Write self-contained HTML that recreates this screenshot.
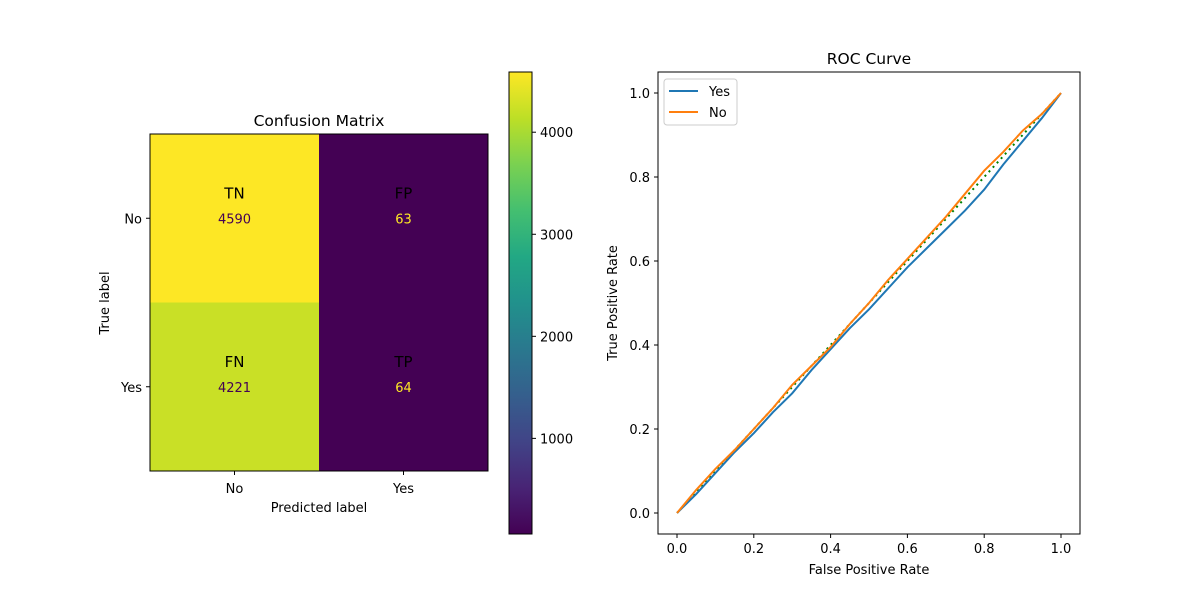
<!DOCTYPE html>
<html><head><meta charset="utf-8"><style>
body{margin:0;background:#fff}
svg text{font-family:"DejaVu Sans","Liberation Sans",sans-serif}
</style></head><body>
<svg id="fig" width="1200" height="600" xmlns="http://www.w3.org/2000/svg">
<defs>
<linearGradient id="vir" x1="0" y1="1" x2="0" y2="0">
<stop offset="0" stop-color="#440154"/><stop offset="0.1" stop-color="#482475"/><stop offset="0.2" stop-color="#414487"/><stop offset="0.3" stop-color="#355f8d"/><stop offset="0.4" stop-color="#2a788e"/><stop offset="0.5" stop-color="#21918c"/><stop offset="0.6" stop-color="#22a884"/><stop offset="0.7" stop-color="#44bf70"/><stop offset="0.8" stop-color="#7ad151"/><stop offset="0.9" stop-color="#bddf26"/><stop offset="1" stop-color="#fde725"/>
</linearGradient>
</defs>
<g id="cm"></g>
<g id="cb"></g>
<g id="roc"></g>
</svg>
<script>
const cmLabels=["No","Yes"];
const cmValues=[[4590,63],[4221,64]];
const cmTags=[["TN","FP"],["FN","TP"]];
const cbTicks=[1000,2000,3000,4000];
const rocTicks=[0,0.2,0.4,0.6,0.8,1.0];
const fprYes=[0,0.05,0.1,0.15,0.2,0.25,0.3,0.35,0.4,0.45,0.5,0.55,0.6,0.65,0.7,0.75,0.8,0.85,0.9,0.95,1];
const tprYes=[0,0.045,0.095,0.145,0.19,0.24,0.285,0.34,0.39,0.44,0.485,0.535,0.585,0.63,0.675,0.72,0.77,0.83,0.885,0.94,1];
const fprNo=[0,0.05,0.1,0.15,0.2,0.25,0.3,0.35,0.4,0.45,0.5,0.55,0.6,0.65,0.7,0.75,0.8,0.85,0.9,0.95,1];
const tprNo=[0,0.055,0.105,0.15,0.2,0.25,0.305,0.35,0.395,0.45,0.5,0.555,0.605,0.655,0.705,0.76,0.815,0.86,0.91,0.95,1];
const NS="http://www.w3.org/2000/svg";
function mk(p,t,a,txt){const e=document.createElementNS(NS,t);for(const k in a)e.setAttribute(k,a[k]);if(txt!==undefined)e.textContent=txt;p.appendChild(e);return e;}
const vmin=63,vmax=4590;
const stops=[[0,[68,1,84]],[0.1,[72,36,117]],[0.2,[65,68,135]],[0.3,[53,95,141]],[0.4,[42,120,142]],[0.5,[33,145,140]],[0.6,[34,168,132]],[0.7,[68,191,112]],[0.8,[122,209,81]],[0.9,[189,223,38]],[1,[253,231,37]]];
function vir(v){let t=(v-vmin)/(vmax-vmin);t=Math.max(0,Math.min(1,t));for(let i=1;i<stops.length;i++){if(t<=stops[i][0]){const a=stops[i-1],b=stops[i];const f=(t-a[0])/(b[0]-a[0]);const c=a[1].map((x,j)=>Math.round(x+(b[1][j]-x)*f));return `rgb(${c})`;}}return "rgb(253,231,37)";}
const cm=document.getElementById('cm');
const X0=150,Y0=134,W=338,H=337,cw=W/2,ch=H/2;
for(let r=0;r<2;r++)for(let c=0;c<2;c++){
 const v=cmValues[r][c];
 const cell=mk(cm,'rect',{x:X0+c*cw,y:Y0+r*ch,width:cw+0.5,height:ch+0.5,fill:vir(v)});
 
 
 const cx=X0+c*cw+cw/2,cy=Y0+r*ch+ch/2;
 const tg=mk(cm,'text',{x:cx,y:cy-20,'text-anchor':'middle','font-size':'15',fill:'#000'},cmTags[r][c]);
 
 
 const vt=mk(cm,'text',{x:cx,y:cy+5,'text-anchor':'middle','font-size':'13',fill:v>2000?'#440154':'#fde725'},String(v));
 
 
}
mk(cm,'rect',{x:X0,y:Y0,width:W,height:H,fill:'none',stroke:'#000','stroke-width':1});
cmLabels.forEach((l,i)=>{
 const x=X0+i*cw+cw/2;
 mk(cm,'line',{x1:x,y1:Y0+H,x2:x,y2:Y0+H+4,stroke:'#000'});
 const t=mk(cm,'text',{x:x,y:Y0+H+22,'text-anchor':'middle','font-size':'13'},l);
 
 
 const y=Y0+i*ch+ch/2;
 mk(cm,'line',{x1:X0-4,y1:y,x2:X0,y2:y,stroke:'#000'});
 const t2=mk(cm,'text',{x:X0-8,y:y+5,'text-anchor':'end','font-size':'13'},l);
 
 
});
let e;
e=mk(cm,'text',{x:X0+W/2,y:126,'text-anchor':'middle','font-size':'15.5'},'Confusion Matrix');
e=mk(cm,'text',{x:X0+W/2,y:512,'text-anchor':'middle','font-size':'13'},'Predicted label');
e=mk(cm,'text',{x:0,y:0,'text-anchor':'middle','font-size':'13',transform:'translate(109,303) rotate(-90)'},'True label');
const cb=document.getElementById('cb');
const CX=509,CY0=72,CY1=534,CW=23;
mk(cb,'rect',{x:CX,y:CY0,width:CW,height:CY1-CY0,fill:'url(#vir)',stroke:'#000','stroke-width':1});
const cbY=v=>CY1-(v-vmin)/(vmax-vmin)*(CY1-CY0);
cbTicks.forEach(v=>{const y=cbY(v);mk(cb,'line',{x1:CX+CW,y1:y,x2:CX+CW+4,y2:y,stroke:'#000'});
 const t=mk(cb,'text',{x:CX+CW+8,y:y+5,'font-size':'13'},String(v));});
const roc=document.getElementById('roc');
const RX0=658,RX1=1080,RY0=72,RY1=534;
const sx=v=>677+v*(1061-677), sy=v=>513-v*(513-93);
mk(roc,'rect',{x:RX0,y:RY0,width:RX1-RX0,height:RY1-RY0,fill:'none',stroke:'#000'});
rocTicks.forEach(v=>{
 const x=sx(v);mk(roc,'line',{x1:x,y1:RY1,x2:x,y2:RY1+4,stroke:'#000'});
 let t=mk(roc,'text',{x:x,y:RY1+19,'text-anchor':'middle','font-size':'13'},v.toFixed(1));
 const y=sy(v);mk(roc,'line',{x1:RX0-4,y1:y,x2:RX0,y2:y,stroke:'#000'});
 t=mk(roc,'text',{x:RX0-8,y:y+5,'text-anchor':'end','font-size':'13'},v.toFixed(1));
});
e=mk(roc,'line',{x1:sx(0),y1:sy(0),x2:sx(1),y2:sy(1),stroke:'#008000','stroke-width':2,'stroke-dasharray':'2,4'});
function path(xs,ys){return xs.map((v,i)=>(i?'L':'M')+sx(v).toFixed(1)+','+sy(ys[i]).toFixed(1)).join('');}
e=mk(roc,'path',{d:path(fprYes,tprYes),fill:'none',stroke:'#1f77b4','stroke-width':2});
e=mk(roc,'path',{d:path(fprNo,tprNo),fill:'none',stroke:'#ff7f0e','stroke-width':2});
e=mk(roc,'text',{x:(RX0+RX1)/2,y:64,'text-anchor':'middle','font-size':'15.5'},'ROC Curve');
e=mk(roc,'text',{x:(RX0+RX1)/2,y:574,'text-anchor':'middle','font-size':'13'},'False Positive Rate');
e=mk(roc,'text',{x:0,y:0,'text-anchor':'middle','font-size':'13',transform:'translate(617,303) rotate(-90)'},'True Positive Rate');
const lg=mk(roc,'g',{});
mk(lg,'rect',{x:664,y:79,width:73,height:46,rx:3,fill:'#fff',stroke:'#ccc'});
[['Yes','#1f77b4',95],['No','#ff7f0e',116]].forEach(([l,c,y])=>{mk(lg,'line',{x1:669,y1:y-4,x2:698,y2:y-4,stroke:c,'stroke-width':2});
 const t=mk(lg,'text',{x:709,y:y+1,'font-size':'13'},l);});
</script>
</body></html>
